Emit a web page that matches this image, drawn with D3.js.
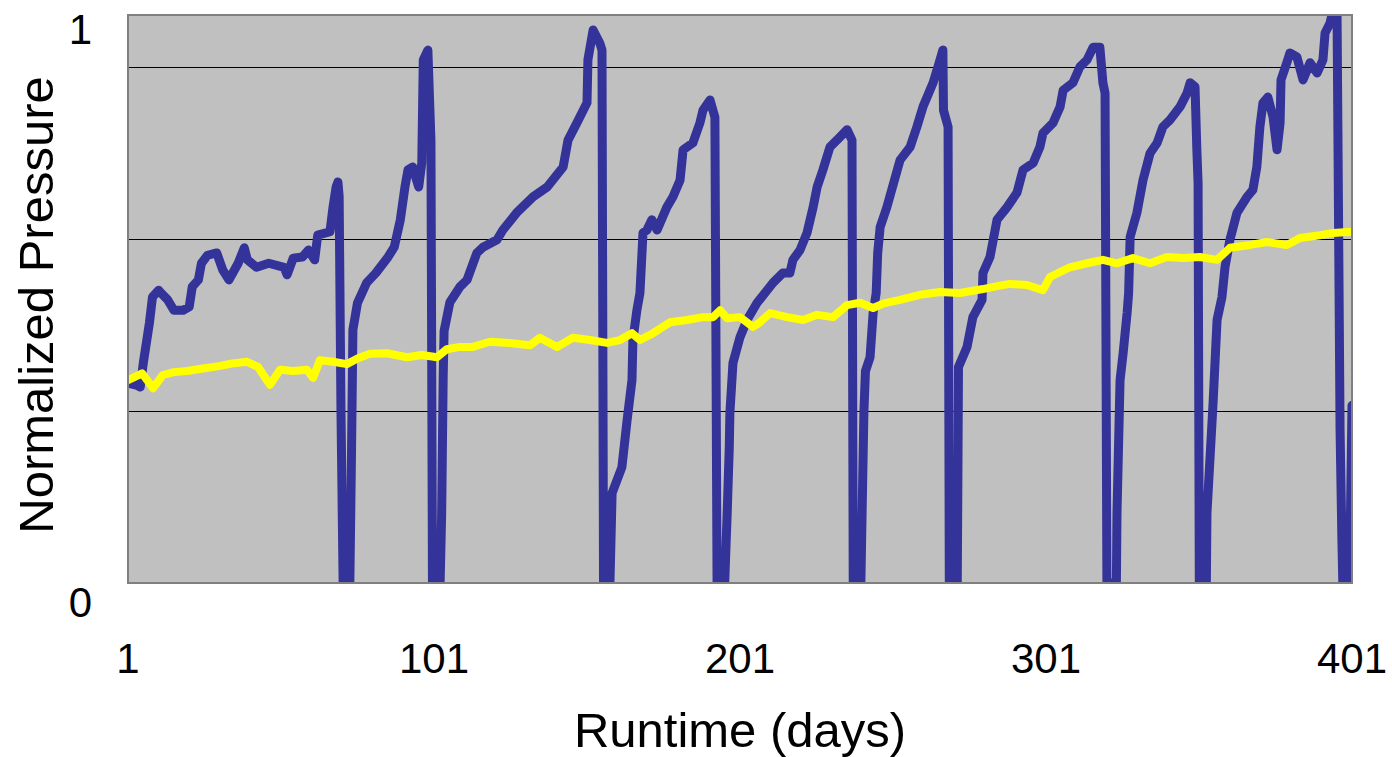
<!DOCTYPE html>
<html>
<head>
<meta charset="utf-8">
<script src="https://cdn.jsdelivr.net/npm/d3@7"></script>
<style>
  body { margin: 0; background: #fff; }
  text { font-family: "Liberation Sans", Arial, sans-serif; fill: #000; }
</style>
</head>
<body>
<script>
// values: [day, normalized pressure]
const blueSeries = [
  [1, 0.349], [4, 0.345], [5, 0.342], [6, 0.384], [8, 0.454], [9, 0.499], [11, 0.511],
  [12, 0.505], [14, 0.494], [16, 0.476], [19, 0.476], [21, 0.482], [22, 0.517], [24, 0.529],
  [25, 0.558], [27, 0.572], [30, 0.576], [32, 0.546], [34, 0.529], [37, 0.558], [39, 0.585],
  [40, 0.564], [43, 0.551], [47, 0.558], [52, 0.551], [53, 0.538], [55, 0.567], [58, 0.569],
  [60, 0.581], [62, 0.564], [63, 0.607], [67, 0.613], [68, 0.656], [69, 0.691], [69.6, 0.70],
  [70, 0.675], [70.6, 0.30], [71.3, 0.0], [73.5, 0.0], [74, 0.209], [74.5, 0.442], [76, 0.489],
  [79, 0.524], [82, 0.541], [86, 0.569], [88, 0.586], [90, 0.634], [91.5, 0.691], [92.5, 0.721],
  [94, 0.726], [96, 0.691], [97, 0.733], [97.5, 0.913], [99, 0.930], [100, 0.773],
  [100.5, 0.0], [103, 0.0], [103.5, 0.12], [104, 0.36], [104.3, 0.44], [106.2, 0.490],
  [109.5, 0.517], [111.8, 0.529], [115, 0.576], [117, 0.586], [121.6, 0.599], [123.5, 0.616],
  [128, 0.646], [133.4, 0.674], [138, 0.691], [143.2, 0.726], [144.8, 0.773], [147.7, 0.803],
  [151, 0.838], [151.3, 0.913], [153, 0.965], [155.2, 0.942], [155.9, 0.93], [156.4, 0.0],
  [158.5, 0.0], [159.2, 0.157], [162.4, 0.202], [164.1, 0.284], [165.7, 0.354], [166, 0.424],
  [167.3, 0.476], [168.3, 0.506], [169.3, 0.611], [170.6, 0.616], [172.2, 0.634], [173.9, 0.616],
  [177.1, 0.656], [179.1, 0.674], [181.4, 0.703], [182.4, 0.756], [185.6, 0.768], [187.9, 0.803],
  [188.9, 0.825], [191.2, 0.843], [192.8, 0.813], [193.5, 0.0], [196, 0.0], [196.8, 0.12],
  [197.5, 0.237], [197.7, 0.297], [198.7, 0.384], [201, 0.429], [203.3, 0.459], [206.6, 0.489],
  [211.8, 0.524], [215, 0.541], [217.3, 0.541], [218.3, 0.564], [220.6, 0.581], [222.9, 0.611],
  [224.9, 0.656], [226.2, 0.691], [228.1, 0.721], [230.4, 0.761], [232.7, 0.773], [236, 0.791],
  [237.6, 0.773], [238, 0.0], [240.5, 0.0], [240.9, 0.122], [241.5, 0.30], [242, 0.37],
  [243.5, 0.394], [244.5, 0.471], [245.5, 0.506], [246, 0.576], [246.8, 0.621], [249, 0.656],
  [253.3, 0.738], [256.6, 0.761], [258.8, 0.796], [260.8, 0.831], [264.1, 0.873], [265.7, 0.901],
  [267.3, 0.93], [267.5, 0.825], [269, 0.796], [269.4, 0.0], [272, 0.0], [272.2, 0.18],
  [272.4, 0.377], [275.2, 0.412], [277.1, 0.464], [280.1, 0.494], [280.4, 0.541], [282.7, 0.569],
  [285, 0.634], [288.3, 0.656], [291.5, 0.681], [293.5, 0.721], [296.8, 0.733], [299, 0.761],
  [300, 0.785], [303.3, 0.803], [305.6, 0.831], [306.6, 0.86], [309.8, 0.873], [312.1, 0.901],
  [314.4, 0.913], [316.4, 0.935], [318.6, 0.935], [319.6, 0.873], [320.3, 0.855], [320.9, 0.0],
  [324, 0.0], [324.2, 0.122], [325.2, 0.354], [326.2, 0.401], [327.5, 0.471], [328, 0.506],
  [328.5, 0.604], [330.7, 0.646], [332.7, 0.703], [335, 0.75], [337.3, 0.768], [339.2, 0.796],
  [341.5, 0.808], [344.8, 0.831], [347.1, 0.855], [348.1, 0.873], [349.7, 0.866], [350.3, 0.756],
  [350.7, 0.698], [351.1, 0.0], [353.4, 0.0], [353.6, 0.122], [355.6, 0.314], [356.9, 0.459],
  [358.5, 0.499], [359.5, 0.551], [361.1, 0.599], [363.4, 0.646], [366.7, 0.674], [368.6, 0.686],
  [369.9, 0.726], [370.9, 0.796], [371.9, 0.838], [373.5, 0.848], [375.2, 0.813], [376.5, 0.756],
  [377.5, 0.803], [377.8, 0.878], [379.7, 0.908], [380.7, 0.925], [383, 0.918], [385, 0.878],
  [387.3, 0.908], [389.6, 0.89], [391.5, 0.913], [392.2, 0.96], [393.8, 0.977], [394.8, 1.0],
  [396.1, 1.0], [396.4, 0.785], [397.1, 0.267], [397.7, 0.075], [398, 0.0], [400.2, 0.0],
  [401, 0.31]
];

const yellowSeries = [
  [1, 0.354], [5.6, 0.366], [9.2, 0.340], [12.4, 0.363], [16, 0.368], [20.3, 0.370],
  [25, 0.374], [31.1, 0.379], [35, 0.383], [39.9, 0.386], [43.5, 0.377], [47.4, 0.346],
  [50.7, 0.372], [55, 0.370], [59.5, 0.372], [61.5, 0.358], [63.7, 0.389], [68, 0.386],
  [72.6, 0.382], [76, 0.392], [80.1, 0.400], [85.6, 0.401], [92.2, 0.394], [97, 0.398],
  [102, 0.394], [105.2, 0.408], [109.5, 0.412], [113.7, 0.412], [119.3, 0.421], [125.8, 0.419],
  [132.4, 0.415], [135.6, 0.428], [141.2, 0.412], [146.4, 0.428], [152, 0.424], [157.5, 0.419],
  [161.8, 0.424], [165.7, 0.436], [168.3, 0.424], [172.6, 0.436], [178.1, 0.455], [183.7, 0.459],
  [188.9, 0.464], [192.2, 0.464], [194.5, 0.476], [196.8, 0.462], [201, 0.464], [205.2, 0.447],
  [207.5, 0.455], [210.8, 0.471], [216.4, 0.464], [221.6, 0.459], [226.2, 0.468], [231.4, 0.464],
  [236, 0.485], [240.2, 0.489], [244.5, 0.480], [248, 0.488], [253.3, 0.494], [259.8, 0.503],
  [266.4, 0.508], [272.9, 0.506], [280.4, 0.513], [285, 0.518], [289.2, 0.522], [294.8, 0.520],
  [300, 0.511], [302.3, 0.534], [308.8, 0.551], [314.4, 0.558], [319.6, 0.564], [324.2, 0.558],
  [329.4, 0.567], [335, 0.558], [340.5, 0.569], [345.8, 0.567], [351.3, 0.569], [356.9, 0.564],
  [361.1, 0.585], [367.7, 0.590], [373.2, 0.595], [379.7, 0.590], [384, 0.602], [390.5, 0.607],
  [394.8, 0.611], [401, 0.613]
];

const xTicks = [1, 101, 201, 301, 401];
const yTicks = [0, 1];
const gridValues = [0.3, 0.6, 0.9];

const width = 1392, height = 757;
const plot = { left: 128, right: 1352, top: 15, bottom: 583 };

const x = d3.scaleLinear().domain([1, 401]).range([plot.left, plot.right]);
const y = d3.scaleLinear().domain([0, 1]).range([plot.bottom, 10]);

const svg = d3.select("body")
  .append("svg")
  .attr("width", width)
  .attr("height", height);

svg.append("clipPath")
  .attr("id", "plot-clip")
  .append("rect")
  .attr("x", plot.left)
  .attr("y", plot.top)
  .attr("width", plot.right - plot.left)
  .attr("height", plot.bottom - plot.top);

// grey plot area
svg.append("rect")
  .attr("x", plot.left)
  .attr("y", plot.top)
  .attr("width", plot.right - plot.left)
  .attr("height", plot.bottom - plot.top)
  .attr("fill", "#c0c0c0");

// horizontal gridlines
svg.selectAll(".grid")
  .data(gridValues)
  .enter()
  .append("line")
  .attr("class", "grid")
  .attr("x1", plot.left)
  .attr("x2", plot.right)
  .attr("y1", d => Math.round(y(d)) + 0.5)
  .attr("y2", d => Math.round(y(d)) + 0.5)
  .attr("stroke", "#000")
  .attr("stroke-width", 1);

const line = d3.line()
  .x(d => x(d[0]))
  .y(d => y(d[1]));

const lines = svg.append("g").attr("clip-path", "url(#plot-clip)");

lines.append("path")
  .datum(blueSeries)
  .attr("d", line)
  .attr("fill", "none")
  .attr("stroke", "#333399")
  .attr("stroke-width", 9)
  .attr("stroke-linejoin", "round")
  .attr("stroke-linecap", "round");

lines.append("path")
  .datum(yellowSeries)
  .attr("d", line)
  .attr("fill", "none")
  .attr("stroke", "#ffff00")
  .attr("stroke-width", 8)
  .attr("stroke-linejoin", "round")
  .attr("stroke-linecap", "round");

// frame
svg.append("rect")
  .attr("x", plot.left)
  .attr("y", plot.top)
  .attr("width", plot.right - plot.left)
  .attr("height", plot.bottom - plot.top)
  .attr("fill", "none")
  .attr("stroke", "#808080")
  .attr("stroke-width", 2);

// x tick labels
svg.selectAll(".xlab")
  .data(xTicks)
  .enter()
  .append("text")
  .attr("class", "xlab")
  .attr("x", d => x(d))
  .attr("y", 673)
  .attr("text-anchor", "middle")
  .style("font-size", "42px")
  .text(d => d);

// y tick labels
svg.selectAll(".ylab")
  .data(yTicks)
  .enter()
  .append("text")
  .attr("class", "ylab")
  .attr("x", 92)
  .attr("y", d => y(d) + 34)
  .attr("text-anchor", "end")
  .style("font-size", "42px")
  .text(d => d);

svg.append("text")
  .attr("x", (plot.left + plot.right) / 2)
  .attr("y", 747)
  .attr("text-anchor", "middle")
  .style("font-size", "49px")
  .text("Runtime (days)");

svg.append("text")
  .attr("transform", `translate(53,${(plot.top + plot.bottom) / 2 + 6}) rotate(-90)`)
  .attr("text-anchor", "middle")
  .style("font-size", "49px")
  .text("Normalized Pressure");
</script>
</body>
</html>
